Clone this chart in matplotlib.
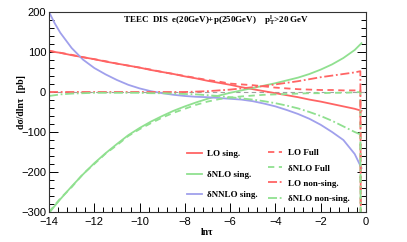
import numpy as np
import matplotlib.pyplot as plt
from matplotlib.ticker import MultipleLocator

# ln(tau) grid of the singular curves and of the full / non-singular curves
lntau_sing = [-14, -13.75, -13.5, -13, -12.5, -12, -11.5, -11, -10.5, -10, -9.5, -9, -8.5, -8, -7.5,
              -7, -6.5, -6, -5.5, -5, -4.5, -4, -3.5, -3, -2.5, -2, -1.5, -1, -0.5, -0.2]
lntau_full = [-14, -13.5, -13, -12.5, -12, -11.5, -11, -10.5, -10, -9.5, -9, -8.5, -8, -7.5,
              -7, -6.5, -6, -5.5, -5, -4.5, -4, -3.5, -3, -2.5, -2, -1.5, -1, -0.5, -0.25, -0.2]

lo_sing = [103, 100, 98, 92, 87, 82, 76, 71, 66, 61, 55, 50, 45, 39, 34,
           28, 23, 18, 12, 7, 2, -3, -8, -13, -19, -24, -30, -36, -42, -47]
nlo_sing = [-303, -285, -268, -236, -206, -178, -153, -130, -108, -90, -74, -60, -47, -36, -26,
            -17, -9, -2, 4, 10, 16, 22, 29, 36, 45, 56, 69, 85, 105, 122]
nnlo_sing = [200, 172, 148, 110, 81, 60, 44, 30, 18, 9, 2, -3, -7, -10, -12,
             -13, -15, -17, -19, -23, -29, -36, -45, -55, -67, -82, -100, -120, -155, -190]

lo_full = [103, 98, 93, 87, 82, 77, 71, 66, 61, 56, 50, 45, 40, 35,
           30, 26, 21, 19, 17, 14, 11, 9, 7, 6, 5, 5, 4, 4, 5, -1000]
nlo_full = [-300, -266, -238, -205, -180, -154, -133, -110, -93, -78, -64, -52, -42, -32,
            -24, -18, -14, -11, -9, -7, -6, -5, -4, -3, -3, -2, -2, -1, 0, -1000]
lo_nonsing = [0, 0, 0, 0, 0, 0, 0, 0, 0, 0, 0, 0, 0, 1,
              2, 4, 6, 9, 12, 15, 19, 23, 27, 32, 37, 41, 45, 49, 52, -1000]
nlo_nonsing = [-10, -6, -4, -3, -2, -2, -2, -2, -2, -3, -3, -4, -5, -6,
               -8, -10, -13, -16, -19, -23, -28, -34, -41, -50, -60, -72, -86, -100, -106, -1000]

red = '#ff6464'
green = '#90e090'
blue = '#a0a0ec'

plt.rcParams['mathtext.fontset'] = 'custom'
plt.rcParams['mathtext.rm'] = 'Liberation Serif:bold'
plt.rcParams['mathtext.it'] = 'Liberation Serif:bold'

fig = plt.figure(figsize=(4.07, 2.42), dpi=100)
ax = fig.add_axes([0.1204, 0.124, 0.7789, 0.8264])

ax.axhline(0, color='#a0a0a0', lw=0.8, ls=(0, (4, 3)))

l1, = ax.plot(lntau_sing, lo_sing, color=red, lw=1.3, label='LO sing.')
l2, = ax.plot(lntau_sing, nlo_sing, color=green, lw=1.3, label='δNLO sing.')
l3, = ax.plot(lntau_sing, nnlo_sing, color=blue, lw=1.3, label='δNNLO sing.')

l4, = ax.plot(lntau_full, lo_full, color=red, lw=1.3, ls=(0, (3.5, 2.5)), label='LO Full')
l5, = ax.plot(lntau_full, nlo_full, color=green, lw=1.3, ls=(0, (3.5, 2.5)), label='δNLO Full')
l6, = ax.plot(lntau_full, lo_nonsing, color=red, lw=1.3, ls=(0, (5, 1.5, 1, 1.5)), label='LO non-sing.')
l7, = ax.plot(lntau_full, nlo_nonsing, color=green, lw=1.3, ls=(0, (5, 1.5, 1, 1.5)), label='δNLO non-sing.')

ax.set_xlim(-14, 0)
ax.set_ylim(-300, 200)
ax.xaxis.set_major_locator(MultipleLocator(2))
ax.xaxis.set_minor_locator(MultipleLocator(0.4))
ax.yaxis.set_major_locator(MultipleLocator(100))
ax.yaxis.set_minor_locator(MultipleLocator(20))
ax.tick_params(which='both', direction='in', right=True, top=False, labelsize=8)
ax.tick_params(axis='x', pad=3.5)
ax.tick_params(axis='y', pad=2)
ax.tick_params(which='major', length=6.5, width=0.7)
ax.tick_params(which='minor', length=3.3, width=0.7)
for lab in ax.get_xticklabels() + ax.get_yticklabels():
    lab.set_family('Liberation Sans')
for sp in ax.spines.values():
    sp.set_linewidth(0.8)
    sp.set_color('#333333')

serif = dict(family='Liberation Serif', weight='bold')
ax.set_xlabel('lnτ', fontsize=7, labelpad=1, **serif)
fig.text(0.054, 0.58, 'dσ/dlnτ  [pb]', rotation=90, fontsize=7, ha='center', va='center', **serif)
ax.text(0.233, 0.96, 'TEEC  DIS  e(20GeV)+p(250GeV)    p$_\\mathrm{T}^\\mathrm{l}$>20 GeV',
        transform=ax.transAxes, fontsize=6.5, ha='left', va='center', **serif)

leg1 = ax.legend(handles=[l1, l2, l3], loc='upper left', bbox_to_anchor=(0.41, 0.35),
                 frameon=False, handlelength=1.6, handletextpad=0.6, labelspacing=1.35,
                 prop={'family': 'Liberation Serif', 'weight': 'bold', 'size': 6.5})
ax.add_artist(leg1)
ax.legend(handles=[l4, l5, l6, l7], loc='upper left', bbox_to_anchor=(0.665, 0.355),
          frameon=False, handlelength=1.6, handletextpad=0.6, labelspacing=0.75,
          prop={'family': 'Liberation Serif', 'weight': 'bold', 'size': 6.5})

fig.savefig('out.png', dpi=100)
